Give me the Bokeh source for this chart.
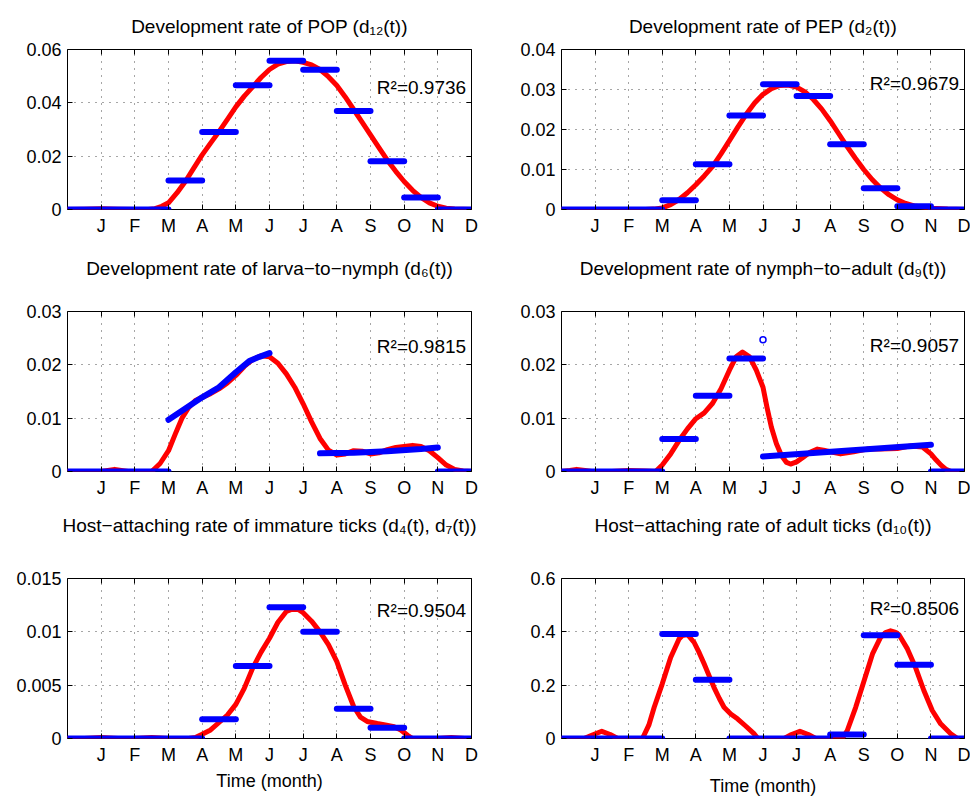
from bokeh.plotting import figure
from bokeh.models import (Range1d, FixedTicker, LinearAxis, CustomJSTickFormatter,
                          CustomLabelingPolicy, Label, Grid)
from bokeh.layouts import column, row
from bokeh.embed import file_html
from bokeh.resources import INLINE

FONT = "Liberation Sans"
BLUE = "#0000ff"
RED = "#ff0000"

# ---------------- shared axis data ----------------
month_ticks = [1, 2, 3, 4, 5, 6, 7, 8, 9, 10, 11, 12]
month_labels = ["J", "F", "M", "A", "M", "J", "J", "A", "S", "O", "N", "D"]

# ---------------- panel 1: POP d12 ----------------
pop_seg_start = [0, 3, 4, 5, 6, 7, 8, 9, 10, 11]
pop_seg_end = [3, 4, 5, 6, 7, 8, 9, 10, 11, 12]
pop_seg_y0 = [0, 0.0109, 0.0291, 0.0466, 0.0558, 0.0524, 0.0369, 0.0181, 0.0045, 0]
pop_seg_y1 = pop_seg_y0
pop_fit_t = [0, 0.5, 1, 1.5, 2, 2.4, 2.6, 2.8, 3, 3.25, 3.5, 3.75, 4, 4.25, 4.5, 4.75,
             5, 5.25, 5.5, 5.75, 6, 6.25, 6.5, 6.75, 7, 7.25, 7.5, 7.75, 8, 8.25, 8.5,
             8.75, 9, 9.25, 9.5, 9.75, 10, 10.25, 10.5, 10.75, 11, 11.25, 11.5, 12]
pop_fit_v = [0, 0.0001, 0.0003, 0.0001, 0, 0, 0.0003, 0.0012, 0.0025, 0.0062, 0.0105,
             0.0155, 0.0205, 0.0249, 0.0292, 0.0338, 0.0385, 0.0425, 0.0460, 0.0495,
             0.0525, 0.0545, 0.0555, 0.0558, 0.0552, 0.0542, 0.0525, 0.0498, 0.0465,
             0.0422, 0.0375, 0.0328, 0.0280, 0.0232, 0.0185, 0.0143, 0.0105, 0.0072,
             0.0045, 0.0025, 0.0012, 0.0005, 0.0002, 0]
pop_yticks = [0, 0.02, 0.04, 0.06]

# ---------------- panel 2: PEP d2 ----------------
pep_seg_start = [0, 3, 4, 5, 6, 7, 8, 9, 10, 11]
pep_seg_end = [3, 4, 5, 6, 7, 8, 9, 10, 11, 12]
pep_seg_y0 = [0, 0.0023, 0.0113, 0.0235, 0.0313, 0.0284, 0.0163, 0.0053, 0.0008, 0]
pep_seg_y1 = pep_seg_y0
pep_fit_t = [0, 1, 2, 2.5, 2.75, 3, 3.25, 3.5, 3.75, 4, 4.25, 4.5, 4.75, 5, 5.25, 5.5,
             5.75, 6, 6.25, 6.5, 6.75, 7, 7.25, 7.5, 7.75, 8, 8.25, 8.5, 8.75, 9, 9.25,
             9.5, 9.75, 10, 10.25, 10.5, 11, 11.5, 12]
pep_fit_v = [0, 0, 0, 0, 0.0001, 0.0004, 0.0012, 0.0025, 0.0042, 0.0062, 0.0084, 0.0108,
             0.0139, 0.0172, 0.0206, 0.0238, 0.0266, 0.0288, 0.0302, 0.0310, 0.0311,
             0.0306, 0.0294, 0.0275, 0.0251, 0.0222, 0.0190, 0.0158, 0.0128, 0.0100,
             0.0075, 0.0054, 0.0037, 0.0024, 0.0015, 0.0009, 0.0003, 0.0001, 0]
pep_yticks = [0, 0.01, 0.02, 0.03, 0.04]

# ---------------- panel 3: larva-to-nymph d6 ----------------
ln_seg_start = [0, 11]
ln_seg_end = [3, 12]
ln_seg_y0 = [0, 0]
ln_seg_y1 = [0, 0]
ln_obs1_t = [3, 3.5, 4, 4.5, 5, 5.4, 5.7, 6]
ln_obs1_v = [0.0097, 0.0118, 0.0139, 0.0158, 0.0186, 0.0207, 0.0215, 0.0222]
ln_obs2_t = [7.5, 8.5, 9.5, 10.5, 11]
ln_obs2_v = [0.0034, 0.0035, 0.0038, 0.0042, 0.0045]
ln_fit_t = [0, 1, 1.2, 1.4, 1.6, 1.8, 2.5, 2.75, 3, 3.2, 3.4, 3.6, 3.8, 4, 4.25, 4.5,
            4.75, 5, 5.25, 5.5, 5.75, 6, 6.25, 6.5, 6.75, 7, 7.25, 7.5, 7.75, 8, 8.25,
            8.5, 8.75, 9, 9.25, 9.5, 9.75, 10, 10.25, 10.5, 10.75, 11, 11.25, 11.5,
            11.75, 12]
ln_fit_v = [0, 0, 0.0002, 0.0004, 0.0002, 0, 0, 0.0015, 0.0039, 0.0070, 0.0100, 0.0120,
            0.0133, 0.0139, 0.0146, 0.0155, 0.0166, 0.0180, 0.0197, 0.0210, 0.0217,
            0.0215, 0.0203, 0.0183, 0.0158, 0.0127, 0.0093, 0.0062, 0.0040, 0.0031,
            0.0033, 0.0039, 0.0038, 0.0033, 0.0035, 0.0041, 0.0045, 0.0047, 0.0049,
            0.0047, 0.0039, 0.0026, 0.0012, 0.0004, 0.0001, 0]
ln_yticks = [0, 0.01, 0.02, 0.03]

# ---------------- panel 4: nymph-to-adult d9 ----------------
na_seg_start = [0, 3, 4, 5, 6, 11]
na_seg_end = [3, 4, 5, 6, 11, 12]
na_seg_y0 = [0, 0.0061, 0.0142, 0.0212, 0.0028, 0]
na_seg_y1 = [0, 0.0061, 0.0142, 0.0212, 0.0050, 0]
na_outlier_t = [6.0]
na_outlier_v = [0.0247]
na_fit_t = [0, 0.25, 0.45, 0.7, 0.9, 1.5, 2, 2.5, 2.8, 3, 3.25, 3.5, 3.75, 4, 4.25,
            4.5, 4.75, 5, 5.2, 5.39, 5.6, 5.8, 6, 6.12, 6.25, 6.4, 6.55, 6.7, 6.82, 7,
            7.2, 7.4, 7.62, 7.8, 8, 8.31, 8.7, 9.1, 9.5, 10, 10.4, 10.75, 11, 11.15,
            11.3, 11.45, 11.6, 12]
na_fit_v = [0, 0.0002, 0.0004, 0.0002, 0, 0, 0.0002, 0.0001, 0, 0.0012, 0.0033, 0.0058,
            0.0080, 0.0099, 0.0110, 0.0128, 0.0155, 0.0190, 0.0215, 0.0224, 0.0215,
            0.0190, 0.0158, 0.0120, 0.0083, 0.0052, 0.0030, 0.0017, 0.0014, 0.0018,
            0.0027, 0.0036, 0.0042, 0.0040, 0.0037, 0.0033, 0.0037, 0.0042, 0.0042,
            0.0043, 0.0048, 0.0046, 0.0033, 0.0022, 0.0012, 0.0004, 0, 0]
na_yticks = [0, 0.01, 0.02, 0.03]

# ---------------- panel 5: immature ticks d4, d7 ----------------
im_seg_start = [0, 4, 5, 6, 7, 8, 9, 10]
im_seg_end = [4, 5, 6, 7, 8, 9, 10, 12]
im_seg_y0 = [0, 0.0018, 0.0068, 0.0123, 0.0100, 0.0028, 0.0010, 0]
im_seg_y1 = im_seg_y0
im_fit_t = [0, 0.5, 1, 1.5, 2, 2.5, 3, 3.6, 3.8, 4, 4.25, 4.5, 4.75, 5, 5.25, 5.5,
            5.75, 6, 6.25, 6.5, 6.65, 6.85, 7, 7.25, 7.5, 7.75, 8, 8.25, 8.5, 8.7, 8.9,
            9.2, 9.4, 9.7, 9.9, 10.1, 10.25, 11, 11.4, 11.8, 12]
im_fit_v = [0, 0, 0.0001, 0, 0, 0.0001, 0, 0, 0.0001, 0.0004, 0.0008, 0.0015, 0.0022,
            0.0032, 0.0047, 0.0066, 0.0081, 0.0094, 0.0109, 0.0119, 0.0121, 0.0121,
            0.0118, 0.0110, 0.0100, 0.0088, 0.0072, 0.0050, 0.0030, 0.0020, 0.0016,
            0.0014, 0.0013, 0.0011, 0.0008, 0.0003, 0, 0, 0.0001, 0, 0]
im_yticks = [0, 0.005, 0.01, 0.015]

# ---------------- panel 6: adult ticks d10 ----------------
ad_seg_start = [0, 3, 4, 5, 8, 9, 10, 11]
ad_seg_end = [3, 4, 5, 8, 9, 10, 11, 12]
ad_seg_y0 = [0, 0.392, 0.220, 0, 0.015, 0.387, 0.277, 0]
ad_seg_y1 = ad_seg_y0
ad_fit_t = [0, 0.67, 0.9, 1.2, 1.45, 1.67, 2.41, 2.6, 2.76, 3.0, 3.25, 3.5, 3.6, 3.75,
            3.95, 4.1, 4.25, 4.4, 4.54, 4.7, 4.84, 5.04, 5.24, 5.5, 5.73, 5.85, 6.63,
            6.85, 7.1, 7.35, 7.57, 8.36, 8.51, 8.76, 9.01, 9.26, 9.5, 9.65, 9.8, 9.95,
            10.05, 10.3, 10.54, 10.79, 11.04, 11.29, 11.59, 11.79, 12]
ad_fit_v = [0, 0, 0.012, 0.027, 0.015, 0, 0, 0.050, 0.117, 0.205, 0.304, 0.373, 0.386,
            0.390, 0.360, 0.322, 0.279, 0.234, 0.192, 0.150, 0.117, 0.092, 0.074, 0.045,
            0.018, 0, 0, 0.015, 0.027, 0.015, 0, 0, 0.030, 0.117, 0.217, 0.317, 0.379,
            0.397, 0.404, 0.398, 0.389, 0.336, 0.267, 0.180, 0.105, 0.055, 0.018, 0, 0]
ad_yticks = [0, 0.2, 0.4, 0.6]

# ---------------- layout (pixels) ----------------
LEFT_W, RIGHT_W = 491, 479          # figure widths of the two columns
LEFT_BL, RIGHT_BL = 67, 70          # left borders (frame start)
LEFT_FW, RIGHT_FW = 404, 403        # frame widths


def make_header(text, width, height, baseline_from_top, center_x):
    h = figure(width=width, height=height, x_range=Range1d(0, width),
               y_range=Range1d(0, height), x_axis_type=None, y_axis_type=None,
               output_backend="svg", toolbar_location=None,
               min_border=0, min_border_left=0, min_border_right=0,
               min_border_top=0, min_border_bottom=0)
    h.outline_line_color = None
    h.background_fill_color = "white"
    h.border_fill_color = "white"
    h.add_layout(Label(x=center_x, y=height - baseline_from_top, text=text,
                       text_align="center", text_baseline="alphabetic",
                       text_font=FONT, text_font_size="19px", text_color="black"))
    return h


def make_panel(ymax, yticks, r2_text, r2_frac, fit_t, fit_v,
               seg_start, seg_end, seg_y0, seg_y1, left, bt, bb,
               obs_lines=(), outlier=None, xlabel=None, xlabel_standoff=3):
    bl = LEFT_BL if left else RIGHT_BL
    fw = LEFT_FW if left else RIGHT_FW
    br = (LEFT_W if left else RIGHT_W) - bl - fw
    p = figure(frame_width=fw, frame_height=160,
               x_range=Range1d(0, 12), y_range=Range1d(0, ymax),
               x_axis_type=None, y_axis_type=None,
               output_backend="svg", toolbar_location=None,
               min_border_left=bl, min_border_right=br,
               min_border_top=bt, min_border_bottom=bb)
    p.outline_line_color = "black"
    p.outline_line_width = 1
    p.outline_line_alpha = 1
    p.background_fill_color = "white"
    p.border_fill_color = "white"

    xt = FixedTicker(ticks=month_ticks)
    yt = FixedTicker(ticks=yticks)
    fmt = CustomJSTickFormatter(code="return String(parseFloat(tick.toPrecision(6)));")
    hide = CustomLabelingPolicy(code="return new Set()")

    def style(ax, labels=True):
        ax.axis_line_color = None
        ax.major_tick_in = 5
        ax.major_tick_out = 0
        ax.minor_tick_in = 0
        ax.minor_tick_out = 0
        ax.major_tick_line_color = "black"
        ax.major_label_text_font = FONT
        ax.major_label_text_color = "black"
        if labels:
            ax.major_label_text_font_size = "18px"
            ax.major_label_standoff = 6
        else:
            ax.major_label_policy = hide
            ax.major_label_text_font_size = "1px"
            ax.major_label_standoff = 0

    xb = LinearAxis(ticker=xt,
                    major_label_overrides={t: l for t, l in zip(month_ticks, month_labels)})
    style(xb)
    if xlabel:
        xb.axis_label = xlabel
        xb.axis_label_text_font = FONT
        xb.axis_label_text_font_size = "18px"
        xb.axis_label_text_font_style = "normal"
        xb.axis_label_text_color = "black"
        xb.axis_label_standoff = xlabel_standoff
    p.add_layout(xb, "below")
    xa = LinearAxis(ticker=xt)
    style(xa, labels=False)
    p.add_layout(xa, "above")
    yl = LinearAxis(ticker=yt, formatter=fmt)
    style(yl)
    p.add_layout(yl, "left")
    yr = LinearAxis(ticker=yt)
    style(yr, labels=False)
    p.add_layout(yr, "right")

    for dim, tk in ((0, xt), (1, yt)):
        g = Grid(dimension=dim, ticker=tk, grid_line_color="black",
                 grid_line_alpha=0.7, grid_line_dash="1 6", grid_line_width=1)
        p.add_layout(g)

    p.line(fit_t, fit_v, line_color=RED, line_width=5, line_join="round", line_cap="round")
    p.segment(x0=seg_start, y0=seg_y0, x1=seg_end, y1=seg_y1, line_color=BLUE,
              line_width=6, line_cap="round")
    for (ot, ov) in obs_lines:
        p.line(ot, ov, line_color=BLUE, line_width=6, line_cap="round", line_join="round")
    if outlier is not None:
        p.scatter(outlier[0], outlier[1], marker="circle", size=6, line_color=BLUE,
                  line_width=1.5, fill_color="white")

    p.add_layout(Label(x=11.84, y=ymax * r2_frac, text=r2_text, text_align="right",
                       text_baseline="alphabetic", text_font=FONT,
                       text_font_size="19px", text_color="black"))
    return p


LCX = LEFT_BL + LEFT_FW / 2
RCX = RIGHT_BL + RIGHT_FW / 2

# row 1: header 0..40 (baseline 26), frame 49..209, figure ends 240
h1 = make_header("Development rate of POP (d\u2081\u2082(t))", LEFT_W, 40, 26, LCX)
h2 = make_header("Development rate of PEP (d\u2082(t))", RIGHT_W, 40, 26, RCX)
p1 = make_panel(0.06, pop_yticks, "R\u00b2=0.9736", 0.76, pop_fit_t, pop_fit_v,
                pop_seg_start, pop_seg_end, pop_seg_y0, pop_seg_y1, True, 9, 31)
p2 = make_panel(0.04, pep_yticks, "R\u00b2=0.9679", 0.79, pep_fit_t, pep_fit_v,
                pep_seg_start, pep_seg_end, pep_seg_y0, pep_seg_y1, False, 9, 31)

# row 2: header 240..282 (baseline 268), frame 311..471, figure ends 500
h3 = make_header("Development rate of larva\u2212to\u2212nymph (d\u2086(t))", LEFT_W, 42, 28, LCX)
h4 = make_header("Development rate of nymph\u2212to\u2212adult (d\u2089(t))", RIGHT_W, 42, 28, RCX)
p3 = make_panel(0.03, ln_yticks, "R\u00b2=0.9815", 0.78, ln_fit_t, ln_fit_v,
                ln_seg_start, ln_seg_end, ln_seg_y0, ln_seg_y1, True, 29, 29,
                obs_lines=((ln_obs1_t, ln_obs1_v), (ln_obs2_t, ln_obs2_v)))
p4 = make_panel(0.03, na_yticks, "R\u00b2=0.9057", 0.79, na_fit_t, na_fit_v,
                na_seg_start, na_seg_end, na_seg_y0, na_seg_y1, False, 29, 29,
                outlier=(na_outlier_t, na_outlier_v))

# row 3: header 500..540 (baseline 525), frame 578..738, figure ends 796
h5 = make_header("Host\u2212attaching rate of immature ticks (d\u2084(t), d\u2087(t))",
                 LEFT_W, 40, 25, LCX)
h6 = make_header("Host\u2212attaching rate of adult ticks (d\u2081\u2080(t))",
                 RIGHT_W, 40, 25, RCX)
p5 = make_panel(0.015, im_yticks, "R\u00b2=0.9504", 0.80, im_fit_t, im_fit_v,
                im_seg_start, im_seg_end, im_seg_y0, im_seg_y1, True, 38, 58,
                xlabel="Time (month)", xlabel_standoff=3)
p6 = make_panel(0.6, ad_yticks, "R\u00b2=0.8506", 0.81, ad_fit_t, ad_fit_v,
                ad_seg_start, ad_seg_end, ad_seg_y0, ad_seg_y1, False, 38, 58,
                xlabel="Time (month)", xlabel_standoff=8)

layout = column(row(h1, h2), row(p1, p2),
                row(h3, h4), row(p3, p4),
                row(h5, h6), row(p5, p6))

with open("out.html", "w") as f:
    f.write(file_html(layout, INLINE))
